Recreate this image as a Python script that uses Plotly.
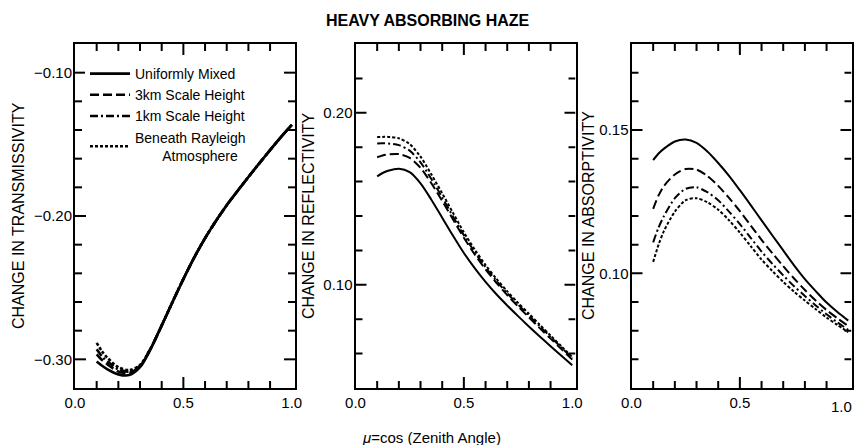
import plotly.graph_objects as go

# ---------------- data ----------------
mu = [0.1, 0.125, 0.15, 0.2, 0.25, 0.3, 0.35, 0.4, 0.45, 0.5,
      0.55, 0.6, 0.65, 0.7, 0.75, 0.8, 0.85, 0.9, 0.95, 1.0]

series_names = ["Uniformly Mixed", "3km Scale Height", "1km Scale Height",
                "Beneath Rayleigh<br>\u00a0\u00a0\u00a0\u00a0\u00a0\u00a0\u00a0Atmosphere"]

# Change in transmissivity
trans_uniform = [-0.3015, -0.3045, -0.3070, -0.3105, -0.3110, -0.3055, -0.2925, -0.2765, -0.2600, -0.2440,
                 -0.2290, -0.2155, -0.2035, -0.1925, -0.1825, -0.1728, -0.1633, -0.1540, -0.1450, -0.1365]
trans_3km = [-0.2965, -0.3005, -0.3035, -0.3085, -0.3095, -0.3048, -0.2923, -0.2764, -0.2600, -0.2440,
             -0.2290, -0.2155, -0.2035, -0.1925, -0.1825, -0.1728, -0.1633, -0.1540, -0.1450, -0.1365]
trans_1km = [-0.2930, -0.2980, -0.3015, -0.3070, -0.3085, -0.3044, -0.2922, -0.2763, -0.2599, -0.2439,
             -0.2289, -0.2155, -0.2035, -0.1925, -0.1825, -0.1728, -0.1633, -0.1540, -0.1450, -0.1365]
trans_rayleigh = [-0.2885, -0.2945, -0.2990, -0.3055, -0.3075, -0.3040, -0.2920, -0.2762, -0.2599, -0.2439,
                  -0.2289, -0.2154, -0.2034, -0.1924, -0.1825, -0.1728, -0.1633, -0.1540, -0.1450, -0.1365]

# Change in reflectivity
refl_uniform = [0.1630, 0.1650, 0.1663, 0.1675, 0.1655, 0.1590, 0.1495, 0.1390, 0.1285, 0.1185,
                0.1097, 0.1017, 0.0945, 0.0880, 0.0818, 0.0758, 0.0700, 0.0643, 0.0587, 0.0532]
refl_3km = [0.1742, 0.1752, 0.1758, 0.1760, 0.1738, 0.1680, 0.1590, 0.1488, 0.1380, 0.1273,
            0.1177, 0.1090, 0.1012, 0.0940, 0.0874, 0.0811, 0.0748, 0.0687, 0.0626, 0.0565]
refl_1km = [0.1822, 0.1823, 0.1822, 0.1812, 0.1780, 0.1712, 0.1615, 0.1508, 0.1397, 0.1288,
            0.1190, 0.1102, 0.1023, 0.0951, 0.0885, 0.0822, 0.0759, 0.0697, 0.0635, 0.0573]
refl_rayleigh = [0.1860, 0.1860, 0.1860, 0.1852, 0.1818, 0.1745, 0.1642, 0.1532, 0.1418, 0.1305,
                 0.1205, 0.1115, 0.1035, 0.0962, 0.0895, 0.0832, 0.0768, 0.0705, 0.0642, 0.0580]

# Change in absorptivity
abs_uniform = [0.1395, 0.1418, 0.1435, 0.1460, 0.1467, 0.1455, 0.1425, 0.1385, 0.1340, 0.1290,
               0.1238, 0.1185, 0.1132, 0.1080, 0.1028, 0.0980, 0.0938, 0.0898, 0.0865, 0.0835]
abs_3km = [0.1225, 0.1272, 0.1305, 0.1345, 0.1364, 0.1362, 0.1340, 0.1305, 0.1263, 0.1217,
           0.1167, 0.1117, 0.1070, 0.1025, 0.0982, 0.0942, 0.0905, 0.0872, 0.0843, 0.0816]
abs_1km = [0.1108, 0.1160, 0.1200, 0.1262, 0.1295, 0.1300, 0.1283, 0.1255, 0.1215, 0.1172,
           0.1124, 0.1076, 0.1033, 0.0993, 0.0955, 0.0921, 0.0888, 0.0857, 0.0829, 0.0803]
abs_rayleigh = [0.1040, 0.1100, 0.1148, 0.1215, 0.1255, 0.1262, 0.1248, 0.1222, 0.1185, 0.1142,
                0.1095, 0.1048, 0.1008, 0.0970, 0.0936, 0.0905, 0.0875, 0.0846, 0.0820, 0.0795]

x_tickvals = [0.0, 0.5, 1.0]
x_ticklabels = ["0.0", "0.5", "1.0"]

# ---------------- styling ----------------
FONT = "Liberation Sans, Arial, Helvetica, sans-serif"
dashes = ["solid", "9px,4px", "8px,3px,2px,3px", "3px,2px"]
W, H = 855, 445
X_RANGE = [0, 1.015]

panels = [
    ([trans_uniform, trans_3km, trans_1km, trans_rayleigh], "x", "y", 2.6),
    ([refl_uniform, refl_3km, refl_1km, refl_rayleigh], "x2", "y2", 2.0),
    ([abs_uniform, abs_3km, abs_1km, abs_rayleigh], "x3", "y3", 2.0),
]

x_doms = [(75, 295), (355.5, 575.5), (631.5, 851.5)]
Y_TOP, Y_BOT = 44, 388
y_dom = [1 - Y_BOT / H, 1 - Y_TOP / H]
y_ranges = [[-0.32, -0.08], [0.04, 0.24], [0.06, 0.18]]
y_dticks = [0.1, 0.1, 0.05]
# axis decoration: (first tick, step, count, major tick values)
y_tick_specs = [(-0.30, 0.02, 11, [-0.30, -0.20, -0.10]),
                (0.06, 0.02, 9, [0.10, 0.20]),
                (0.07, 0.01, 11, [0.10, 0.15])]
y_titles = ["CHANGE IN TRANSMISSIVITY", "CHANGE IN REFLECTIVITY", "CHANGE IN ABSORPTIVITY"]
y_title_x = [19, 309, 589]
MAJ, MIN = 11, 7

fig = go.Figure()
for p, (data, xa, ya, lw) in enumerate(panels):
    for i, vals in enumerate(data):
        fig.add_trace(go.Scatter(
            x=mu, y=vals, xaxis=xa, yaxis=ya, mode="lines",
            line=dict(color="black", width=lw, dash=dashes[i], shape="spline", smoothing=0.8),
            name=series_names[i], showlegend=(p == 0),
        ))

# inward tick marks along the four sides of every panel (axis decoration)
for k, (_, xa, ya, _) in enumerate(panels):
    y0, y1 = y_ranges[k]
    per_px_y = (y1 - y0) / (Y_BOT - Y_TOP)
    per_px_x = (X_RANGE[1] - X_RANGE[0]) / (x_doms[k][1] - x_doms[k][0])
    tx, ty = [], []
    for j in range(1, 10):
        v = round(0.1 * j, 2)
        L = MAJ if j == 5 else MIN
        tx += [v, v, None, v, v, None]
        ty += [y0, y0 + L * per_px_y, None, y1, y1 - L * per_px_y, None]
    start, step, n, majors = y_tick_specs[k]
    for j in range(n):
        v = round(start + step * j, 3)
        L = MAJ if any(abs(v - m) < 1e-9 for m in majors) else MIN
        tx += [X_RANGE[0], X_RANGE[0] + L * per_px_x, None,
               X_RANGE[1], X_RANGE[1] - L * per_px_x, None]
        ty += [v, v, None, v, v, None]
    fig.add_trace(go.Scatter(x=tx, y=ty, xaxis=xa, yaxis=ya, mode="lines",
                             line=dict(color="black", width=2), connectgaps=False,
                             cliponaxis=False, hoverinfo="skip", showlegend=False))

layout = dict(
    width=W, height=H,
    margin=dict(l=0, r=0, t=0, b=0),
    paper_bgcolor="white", plot_bgcolor="white",
    font=dict(family=FONT, color="black", size=14),
    showlegend=True, dragmode=False, hovermode=False,
    legend=dict(x=85 / W, y=1 - 58 / H, xanchor="left", yanchor="top",
                bgcolor="white", font=dict(size=14, family=FONT),
                itemwidth=40, tracegroupgap=0),
)

for k in range(3):
    sx = "" if k == 0 else str(k + 1)
    xr, yr = "x" + sx, "y" + sx
    last_panel = (k == 2)
    layout["xaxis" + sx] = dict(
        domain=[x_doms[k][0] / W, x_doms[k][1] / W], anchor=yr, range=X_RANGE,
        tickmode="array",
        tickvals=x_tickvals[:2] if last_panel else x_tickvals,
        ticktext=x_ticklabels[:2] if last_panel else x_ticklabels,
        ticks="", showline=True, linecolor="black", linewidth=2, mirror=True,
        showgrid=False, zeroline=False, automargin=False, fixedrange=True,
        tickfont=dict(size=15, family=FONT),
    )
    layout["yaxis" + sx] = dict(
        domain=y_dom, anchor=xr, range=y_ranges[k],
        tickmode="linear", tick0=0, dtick=y_dticks[k], tickformat=".2f", ticks="",
        showline=True, linecolor="black", linewidth=2, mirror=True,
        showgrid=False, zeroline=False, automargin=False, fixedrange=True,
        tickfont=dict(size=15, family=FONT), ticklabelstandoff=-2,
    )
    fig.add_annotation(text=y_titles[k], x=y_title_x[k] / W, y=1 - 216 / H,
                       xref="paper", yref="paper", showarrow=False, textangle=-90,
                       xanchor="center", yanchor="middle", bgcolor="white",
                       font=dict(size=16, family=FONT))

fig.update_layout(**layout)

# last x tick label of the right panel sits against the page edge
fig.add_annotation(text=x_ticklabels[2], x=x_tickvals[2], xref="x3",
                   y=1 - 406 / H, yref="paper", showarrow=False,
                   xanchor="right", yanchor="middle", xshift=6, bgcolor="white",
                   font=dict(size=15, family=FONT))

fig.add_annotation(text="<b>HEAVY ABSORBING HAZE</b>", x=427.5 / W, y=1 - 20 / H,
                   xref="paper", yref="paper", showarrow=False,
                   xanchor="center", yanchor="middle", bgcolor="white",
                   font=dict(size=16, family=FONT))
fig.add_annotation(text="<i>\u03bc</i>=cos (Zenith Angle)", x=431 / W, y=1 - 437 / H,
                   xref="paper", yref="paper", showarrow=False,
                   xanchor="center", yanchor="middle", bgcolor="white",
                   font=dict(size=15, family=FONT))

fig.write_html("out.html", config={"staticPlot": True, "displayModeBar": False})
